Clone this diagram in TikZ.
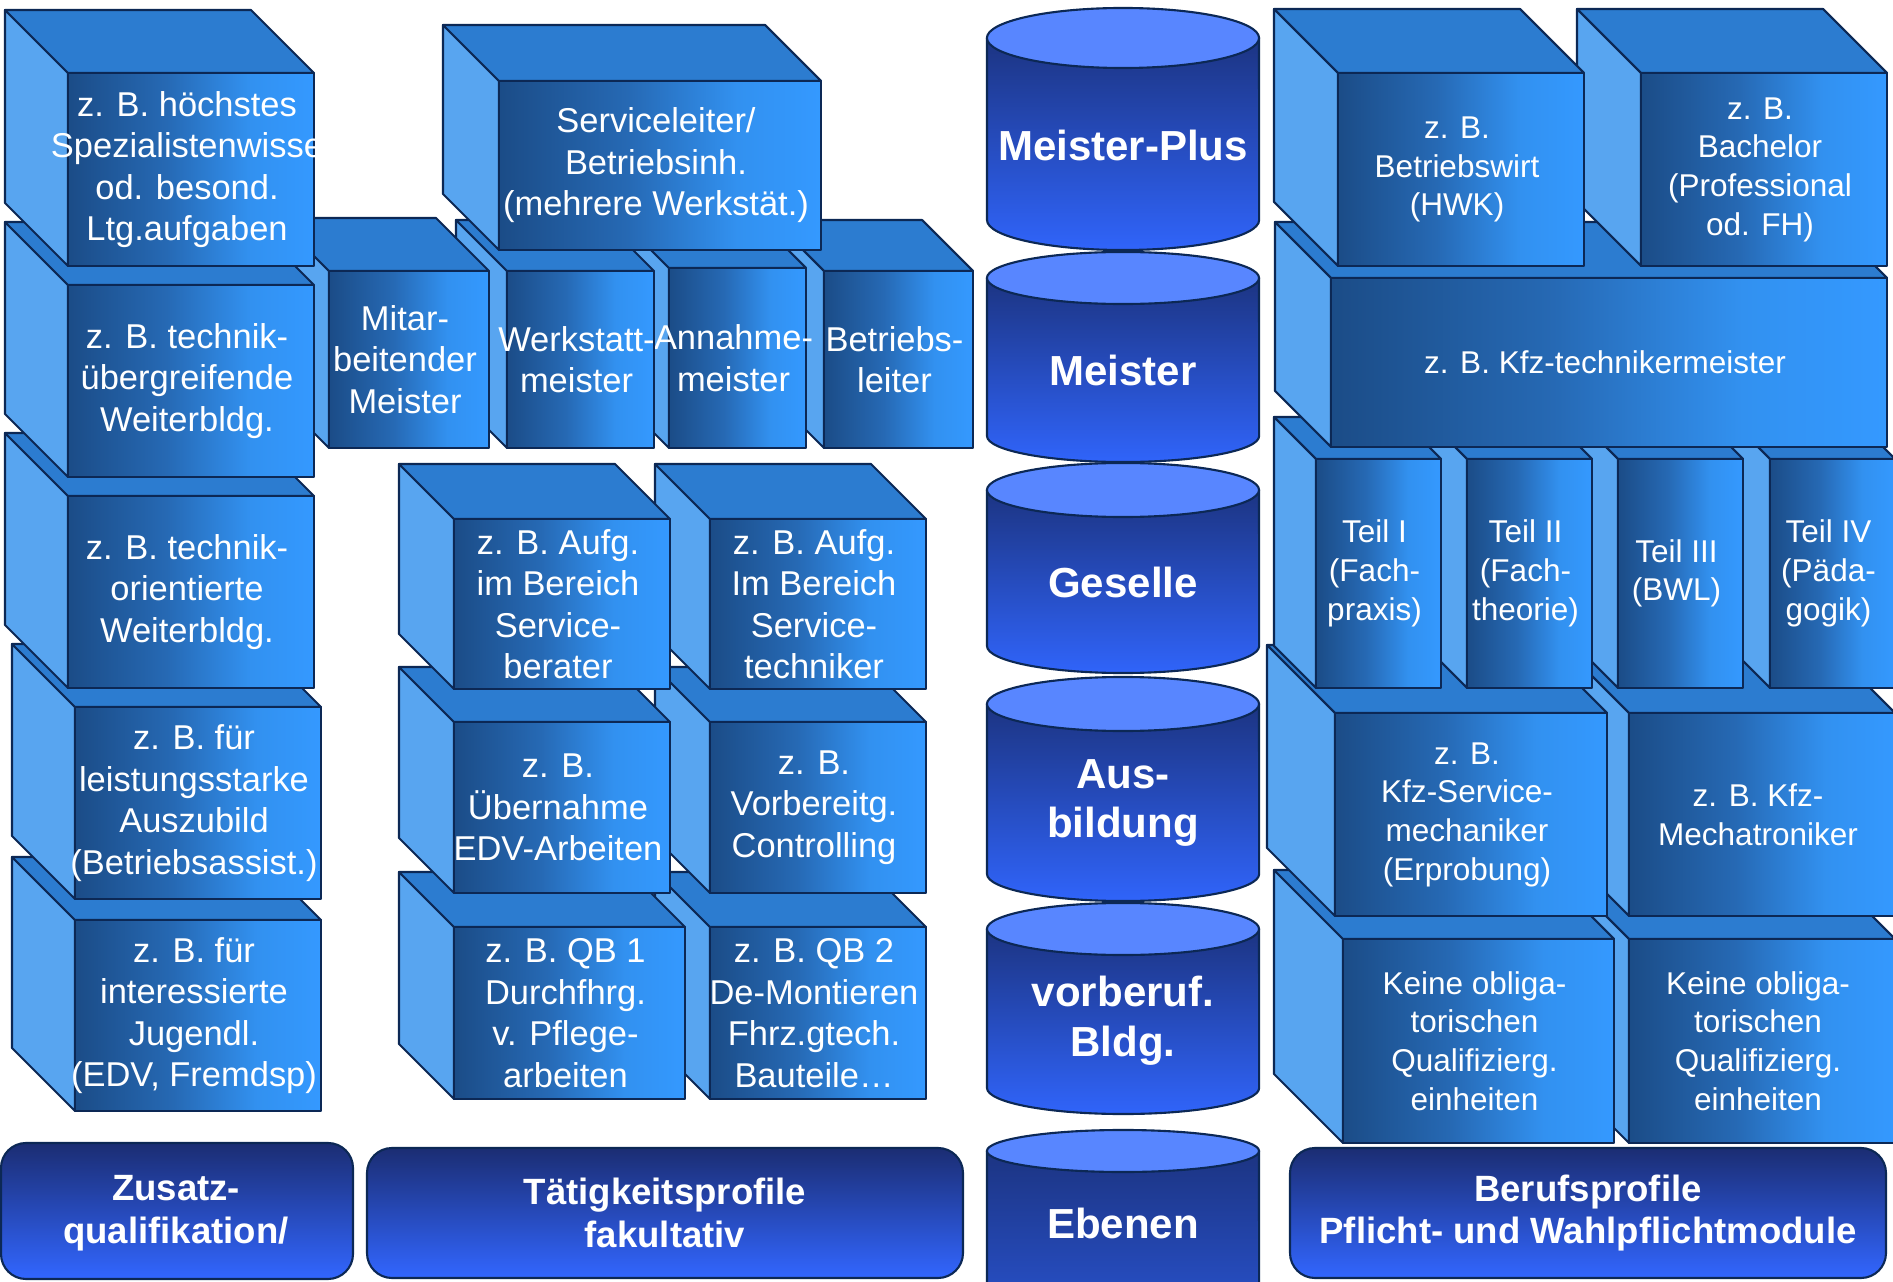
\documentclass[tikz,border=0pt]{standalone}
\usepackage{fontspec}
\setmainfont{Liberation Sans}
\definecolor{edge}{RGB}{12,40,85}
\definecolor{sidecol}{RGB}{88,165,240}
\definecolor{topcol}{RGB}{44,124,208}
\definecolor{cfA}{RGB}{27,76,135}
\definecolor{cfB}{RGB}{38,105,180}
\definecolor{cfC}{RGB}{50,145,240}
\definecolor{cfD}{RGB}{52,153,255}
\definecolor{cylT}{RGB}{28,52,130}
\definecolor{cylB}{RGB}{48,100,250}
\definecolor{cylTop}{RGB}{88,134,255}
\definecolor{boxT}{RGB}{27,45,115}
\definecolor{boxB}{RGB}{50,102,255}
\pgfdeclarehorizontalshading{cubefront}{100bp}{color(0bp)=(cfA); color(25bp)=(cfA); color(45bp)=(cfB); color(62bp)=(cfC); color(75bp)=(cfD); color(100bp)=(cfD)}
\newcommand{\fcube}{\fontsize{9.8}{11.8}\selectfont}
\newcommand{\fright}{\fontsize{8.96}{11}\selectfont}
\newcommand{\fcyl}{\bfseries\fontsize{11.95}{14.1}\selectfont}
\newcommand{\fbot}{\bfseries\fontsize{10.4}{12.2}\selectfont}
\tikzset{
  edgeline/.style={draw=edge, line width=0.6pt, line join=round},
  ltext/.style={text=white, align=center, inner sep=0pt, font=\fcube},
  rtext/.style={text=white, align=center, inner sep=0pt, font=\fright},
  cyltext/.style={text=white, align=center, inner sep=0pt, font=\fcyl},
  bottext/.style={text=white, align=center, inner sep=0pt, font=\fbot},
  botbox/.style={top color=boxT, bottom color=boxB, edgeline, rounded corners=0.25cm},
}
% #1 name, #2 front left x, #3 front top y, #4 width, #5 height, #6 depth, #7 text, #8 text style
\newcommand{\mycube}[8]{%
  \filldraw[fill=sidecol, edgeline] (#2-#6,-#3+#6) -- (#2,-#3) -- (#2,-#3-#5) -- (#2-#6,-#3-#5+#6) -- cycle;
  \filldraw[fill=topcol, edgeline] (#2-#6,-#3+#6) -- (#2+#4-#6,-#3+#6) -- (#2+#4,-#3) -- (#2,-#3) -- cycle;
  \shadedraw[shading=cubefront, edgeline] (#2,-#3) rectangle (#2+#4,-#3-#5);
  \node[#8] (#1) at (#2+#4/2-4,-#3-#5/2) {#7};
}
% #1 name, #2 top centre y, #3 bottom centre y, #4 y radius, #5 text y, #6 text
\newcommand{\mycyl}[6]{%
  \shadedraw[top color=cylT, bottom color=cylB, edgeline] (987,-#2) -- (987,-#3) arc[start angle=180, end angle=360, x radius=1.36cm, y radius=#4] -- (1259,-#2) -- cycle;
  \filldraw[fill=cylTop, edgeline] (1123,-#2) ellipse [x radius=1.36cm, y radius=#4];
  \node[cyltext] (#1) at (1123,-#5) {#6};
}
\begin{document}
\begin{tikzpicture}[x=0.01cm,y=0.01cm]
\useasboundingbox (0,0) rectangle (1893,-1282);
\clip (0,0) rectangle (1893,-1282);
\fill[white] (0,0) rectangle (1893,-1282);

% bottom boxes
\shadedraw[botbox] (1,-1143) rectangle (353,-1279);
\node[bottext] (zusatz) at (176,-1213) {Zusatz-\\qualifikation/};
\shadedraw[botbox] (367,-1148) rectangle (963,-1278);
\node[bottext] (taetig) at (665,-1213) {Tätigkeitsprofile\\fakultativ};
\shadedraw[botbox] (1290,-1148) rectangle (1886,-1278);
\node[bottext] (beruf) at (1588,-1213) {Berufsprofile\\Pflicht- und Wahlpflichtmodule};

% cylinders (levels)
\mycyl{mplus}{38}{220}{0.30cm}{145}{Meister-Plus}
\mycyl{meister}{278}{436}{0.26cm}{370}{Meister}
\mycyl{geselle}{490}{646}{0.27cm}{582}{Geselle}
\mycyl{ausb}{704}{874}{0.27cm}{803}{Aus-\\bildung}
\mycyl{vorb}{929}{1088}{0.26cm}{1021}{vorberuf.\\Bldg.}
\mycyl{ebenen}{1151}{1400}{0.21cm}{1223}{Ebenen}

% middle lower cubes
\mycube{qb2}{710}{927}{216}{172}{55}{z. B. QB 2\\De-Montieren\\Fhrz.gtech.\\Bauteile…}{ltext}
\mycube{qb1}{454}{927}{231}{172}{55}{z. B. QB 1\\Durchfhrg.\\v. Pflege-\\arbeiten}{ltext}
\mycube{ctrl}{710}{722}{216}{171}{55}{z. B.\\Vorbereitg.\\Controlling}{ltext}
\mycube{edv}{454}{722}{216}{171}{55}{z. B.\\Übernahme\\EDV-Arbeiten}{ltext}
\mycube{tech}{710}{519}{216}{170}{55}{z. B. Aufg.\\Im Bereich\\Service-\\techniker}{ltext}
\mycube{berat}{454}{519}{216}{170}{55}{z. B. Aufg.\\im Bereich\\Service-\\berater}{ltext}

% middle upper row
\mycube{betrl}{824}{271}{149}{177}{51}{Betriebs-\\leiter}{ltext}
\mycube{annahme}{669}{268}{137}{180}{51}{Annahme-\\meister}{ltext}
\mycube{werkst}{507}{271}{147}{177}{51}{Werkstatt-\\meister}{ltext}
\mycube{mitar}{329}{271}{160}{177}{53}{Mitar-\\beitender\\Meister}{ltext}
\mycube{servl}{499}{81}{322}{169}{56}{Serviceleiter/\\Betriebsinh.\\(mehrere Werkstät.)}{ltext}

% left column
\mycube{l5}{75}{920}{246}{191}{63}{z. B. für\\interessierte\\Jugendl.\\(EDV, Fremdsp)}{ltext}
\mycube{l4}{75}{707}{246}{192}{63}{z. B. für\\leistungsstarke\\Auszubild\\(Betriebsassist.)}{ltext}
\mycube{l3}{68}{496}{246}{192}{63}{z. B. technik-\\orientierte\\Weiterbldg.}{ltext}
\mycube{l2}{68}{285}{246}{192}{63}{z. B. technik-\\übergreifende\\Weiterbldg.}{ltext}
\mycube{l1}{68}{73}{246}{193}{63}{z. B. höchstes\\Spezialistenwisse\\od. besond.\\Ltg.aufgaben}{ltext}

% right column
\mycube{keine2}{1629}{939}{266}{204}{69}{Keine obliga-\\torischen\\Qualifizierg.\\einheiten}{rtext}
\mycube{keine1}{1343}{939}{271}{204}{69}{Keine obliga-\\torischen\\Qualifizierg.\\einheiten}{rtext}
\mycube{mecha}{1629}{713}{266}{203}{68}{z. B. Kfz-\\Mechatroniker}{rtext}
\mycube{kfzserv}{1335}{713}{272}{203}{68}{z. B.\\Kfz-Service-\\mechaniker\\(Erprobung)}{rtext}
\mycube{teil4}{1770}{459}{125}{229}{42}{Teil IV\\(Päda-\\gogik)}{rtext}
\mycube{teil3}{1618}{459}{125}{229}{42}{Teil III\\(BWL)}{rtext}
\mycube{teil2}{1467}{459}{125}{229}{42}{Teil II\\(Fach-\\theorie)}{rtext}
\mycube{teil1}{1316}{459}{125}{229}{42}{Teil I\\(Fach-\\praxis)}{rtext}
\mycube{kfztm}{1331}{278}{556}{169}{56}{z. B. Kfz-technikermeister}{rtext}
\mycube{bachelor}{1641}{73}{246}{193}{64}{z. B.\\Bachelor\\(Professional\\od. FH)}{rtext}
\mycube{bwirt}{1338}{73}{246}{193}{64}{z. B.\\Betriebswirt\\(HWK)}{rtext}
\end{tikzpicture}
\end{document}
